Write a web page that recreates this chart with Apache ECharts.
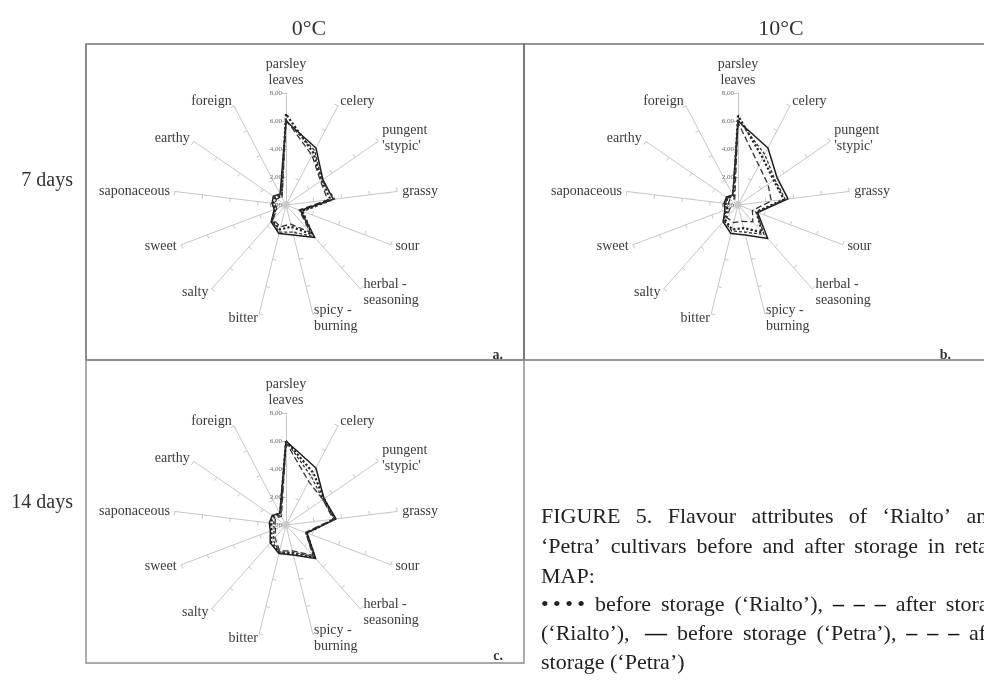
<!DOCTYPE html>
<html><head><meta charset="utf-8">
<script src="https://cdn.jsdelivr.net/npm/echarts@6/dist/echarts.min.js"></script>
<style>html,body{margin:0;padding:0;background:#fff}#c{width:984px;height:694px}</style>
</head><body><div id="c"></div>
<script>
// Flavour attributes, clockwise from the top
const attributes = ["parsley\nleaves","celery","pungent\n'stypic'","grassy","sour","herbal -\nseasoning","spicy -\nburning","bitter","salty","sweet","saponaceous","earthy","foreign"];
const tickLabels = ["0,00","2,00","4,00","6,00","8,00"];
const seriesNames = ["before storage ('Rialto')","after storage ('Rialto')","before storage ('Petra')","after storage ('Petra')"];
const panelTitles = ["0°C","10°C"];
const rowTitles = ["7 days","14 days"];
const panelLetters = ["a.","b.","c."];

// a. 0°C, 7 days
const a_rialtoBefore = [6.5, 4.2, 3.1, 3.2, 1.2, 2.8, 1.6, 1.8, 1.5, 0.8, 0.9, 0.9, 0.7];
const a_rialtoAfter  = [6.1, 4.0, 3.0, 3.0, 1.0, 2.6, 1.4, 1.6, 1.4, 0.7, 0.8, 0.8, 0.6];
const a_petraBefore  = [6.0, 4.6, 3.2, 3.4, 1.1, 3.1, 2.2, 2.1, 1.6, 0.9, 1.0, 1.1, 0.9];
const a_petraAfter   = [6.0, 4.4, 3.1, 3.5, 1.3, 3.0, 2.0, 2.0, 1.5, 0.8, 1.0, 1.0, 0.8];
// b. 10°C, 7 days
const b_rialtoBefore = [6.4, 3.8, 3.1, 3.3, 1.4, 2.6, 1.7, 1.8, 1.4, 0.8, 0.9, 0.9, 0.7];
const b_rialtoAfter  = [5.9, 3.2, 2.6, 2.4, 1.1, 1.6, 1.2, 1.3, 1.2, 0.6, 0.7, 0.7, 0.5];
const b_petraBefore  = [6.0, 4.6, 3.4, 3.6, 1.5, 3.2, 2.2, 2.1, 1.6, 1.0, 1.0, 1.0, 0.8];
const b_petraAfter   = [6.1, 4.1, 3.2, 3.4, 1.4, 2.8, 2.0, 1.9, 1.5, 0.9, 0.9, 0.9, 0.8];
// c. 0°C, 14 days
const c_rialtoBefore = [6.0, 4.2, 3.3, 3.5, 1.6, 3.1, 2.1, 2.0, 1.6, 1.1, 1.1, 1.1, 0.9];
const c_rialtoAfter  = [5.9, 3.5, 3.2, 3.4, 1.5, 2.9, 1.9, 1.9, 1.2, 0.8, 0.8, 0.9, 0.7];
const c_petraBefore  = [6.0, 4.6, 3.3, 3.6, 1.6, 3.2, 2.2, 2.1, 1.7, 1.2, 1.2, 1.2, 0.95];
const c_petraAfter   = [6.0, 3.9, 3.2, 3.5, 1.5, 3.0, 2.0, 2.0, 1.4, 0.9, 0.9, 1.0, 0.8];

const T = "\u2009";
const G1 = "  " + T, G = " " + T;
const DASH3 = "{b|– " + T + "– " + T + "–}";
const captionLines = [
  ["FIGURE","5.","Flavour","attributes","of","‘Rialto’","and"].join(G1),
  ["‘Petra’","cultivars","before","and","after","storage","in","retail"].join(G),
  "MAP:",
  "•" + T + "•" + T + "•" + T + "•" + G + "before" + G + "storage" + G + "(‘Rialto’)," + G + DASH3 + G + "after" + G + "storage",
  "(‘Rialto’)," + G + " {b|—}" + G + "before" + G + "storage" + G + "(‘Petra’)," + G + DASH3 + G + "after",
  "storage (‘Petra’)"
];

const SERIF = "'Liberation Serif','DejaVu Serif',serif";
const panels = [
  {center:[286,205], data:[a_rialtoBefore,a_rialtoAfter,a_petraBefore,a_petraAfter]},
  {center:[738,205], data:[b_rialtoBefore,b_rialtoAfter,b_petraBefore,b_petraAfter]},
  {center:[286,525], data:[c_rialtoBefore,c_rialtoAfter,c_petraBefore,c_petraAfter]}
];
// ECharts lays radar indicators counter-clockwise; reorder so they run clockwise
const order = [0].concat(attributes.map((_,i)=>i).slice(1).reverse());
const R = 112;
const styles = [
  {type:'dotted', width:2.2, color:'#222'},
  {type:[6,3], width:1.3, color:'#333'},
  {type:'solid', width:1.5, color:'#1e1e1e'},
  {type:[3,2], width:1.3, color:'#333'}
];

const radar = panels.map(p => ({
  center: p.center, radius: R, startAngle: 90, splitNumber: 4, shape:'polygon',
  indicator: order.map(i => ({name: attributes[i], min:0, max:8})),
  axisName: {color:'#3a3a3a', fontFamily: SERIF, fontSize: 14, lineHeight: 16},
  nameGap: 5,
  axisLine: {lineStyle:{color:'#c6c6c6', width:1}},
  axisTick: {show:true, length:4, lineStyle:{color:'#c6c6c6'}},
  splitLine: {show:false}, splitArea: {show:false}, axisLabel:{show:false}
}));
const polar = panels.map(p => ({center:p.center, radius:R}));
const angleAxis = panels.map((p,k) => ({polarIndex:k, startAngle:90, min:0, max:360, show:false}));
const radiusAxis = panels.map((p,k) => ({polarIndex:k, min:0, max:8, interval:2,
  axisLine:{show:false}, axisTick:{show:false}, splitLine:{show:false},
  axisLabel:{fontSize:7, color:'#666', fontFamily:SERIF, margin:4,
    formatter:(v)=>tickLabels[Math.round(v/2)]}}));

const series = panels.map((p,k) => ({
  type:'radar', radarIndex:k, symbol:'none', silent:true,
  data: p.data.map((arr,j) => ({name: seriesNames[j], value: order.map(i => arr[i]), lineStyle: styles[j]}))
}));

const graphic = [
  {type:'rect', shape:{x:86, y:44, width:438, height:316}, style:{fill:'none', stroke:'#767676', lineWidth:1.7}},
  {type:'rect', shape:{x:524, y:44, width:480, height:316}, style:{fill:'none', stroke:'#767676', lineWidth:1.7}},
  {type:'rect', shape:{x:86, y:360, width:438, height:303}, style:{fill:'none', stroke:'#8a8a8a', lineWidth:1.4}},
  {type:'text', x:309, y:29, style:{text:panelTitles[0], font:'22px '+SERIF, fill:'#333', align:'center', verticalAlign:'middle'}},
  {type:'text', x:781, y:29, style:{text:panelTitles[1], font:'22px '+SERIF, fill:'#333', align:'center', verticalAlign:'middle'}},
  {type:'text', x:73, y:181, style:{text:rowTitles[0], font:'20px '+SERIF, fill:'#333', align:'right', verticalAlign:'middle'}},
  {type:'text', x:73, y:503, style:{text:rowTitles[1], font:'20px '+SERIF, fill:'#333', align:'right', verticalAlign:'middle'}},
  {type:'text', x:503, y:355, style:{text:panelLetters[0], font:'bold 14px '+SERIF, fill:'#333', align:'right', verticalAlign:'middle'}},
  {type:'text', x:951, y:355, style:{text:panelLetters[1], font:'bold 14px '+SERIF, fill:'#333', align:'right', verticalAlign:'middle'}},
  {type:'text', x:503, y:656, style:{text:panelLetters[2], font:'bold 14px '+SERIF, fill:'#333', align:'right', verticalAlign:'middle'}}
];
const capY = [517, 547, 577, 605, 634, 663];
captionLines.forEach((t,i) => graphic.push({type:'text', x:541, y:capY[i],
  style:{text:t, font:'22px '+SERIF, fill:'#222', verticalAlign:'middle',
    rich:{b:{font:'bold 22px '+SERIF, fill:'#111'}}}}));

const chart = echarts.init(document.getElementById('c'), null, {renderer:'canvas'});
chart.setOption({
  backgroundColor:'#ffffff', animation:false,
  radar, polar, angleAxis, radiusAxis, series, graphic
});
</script></body></html>
